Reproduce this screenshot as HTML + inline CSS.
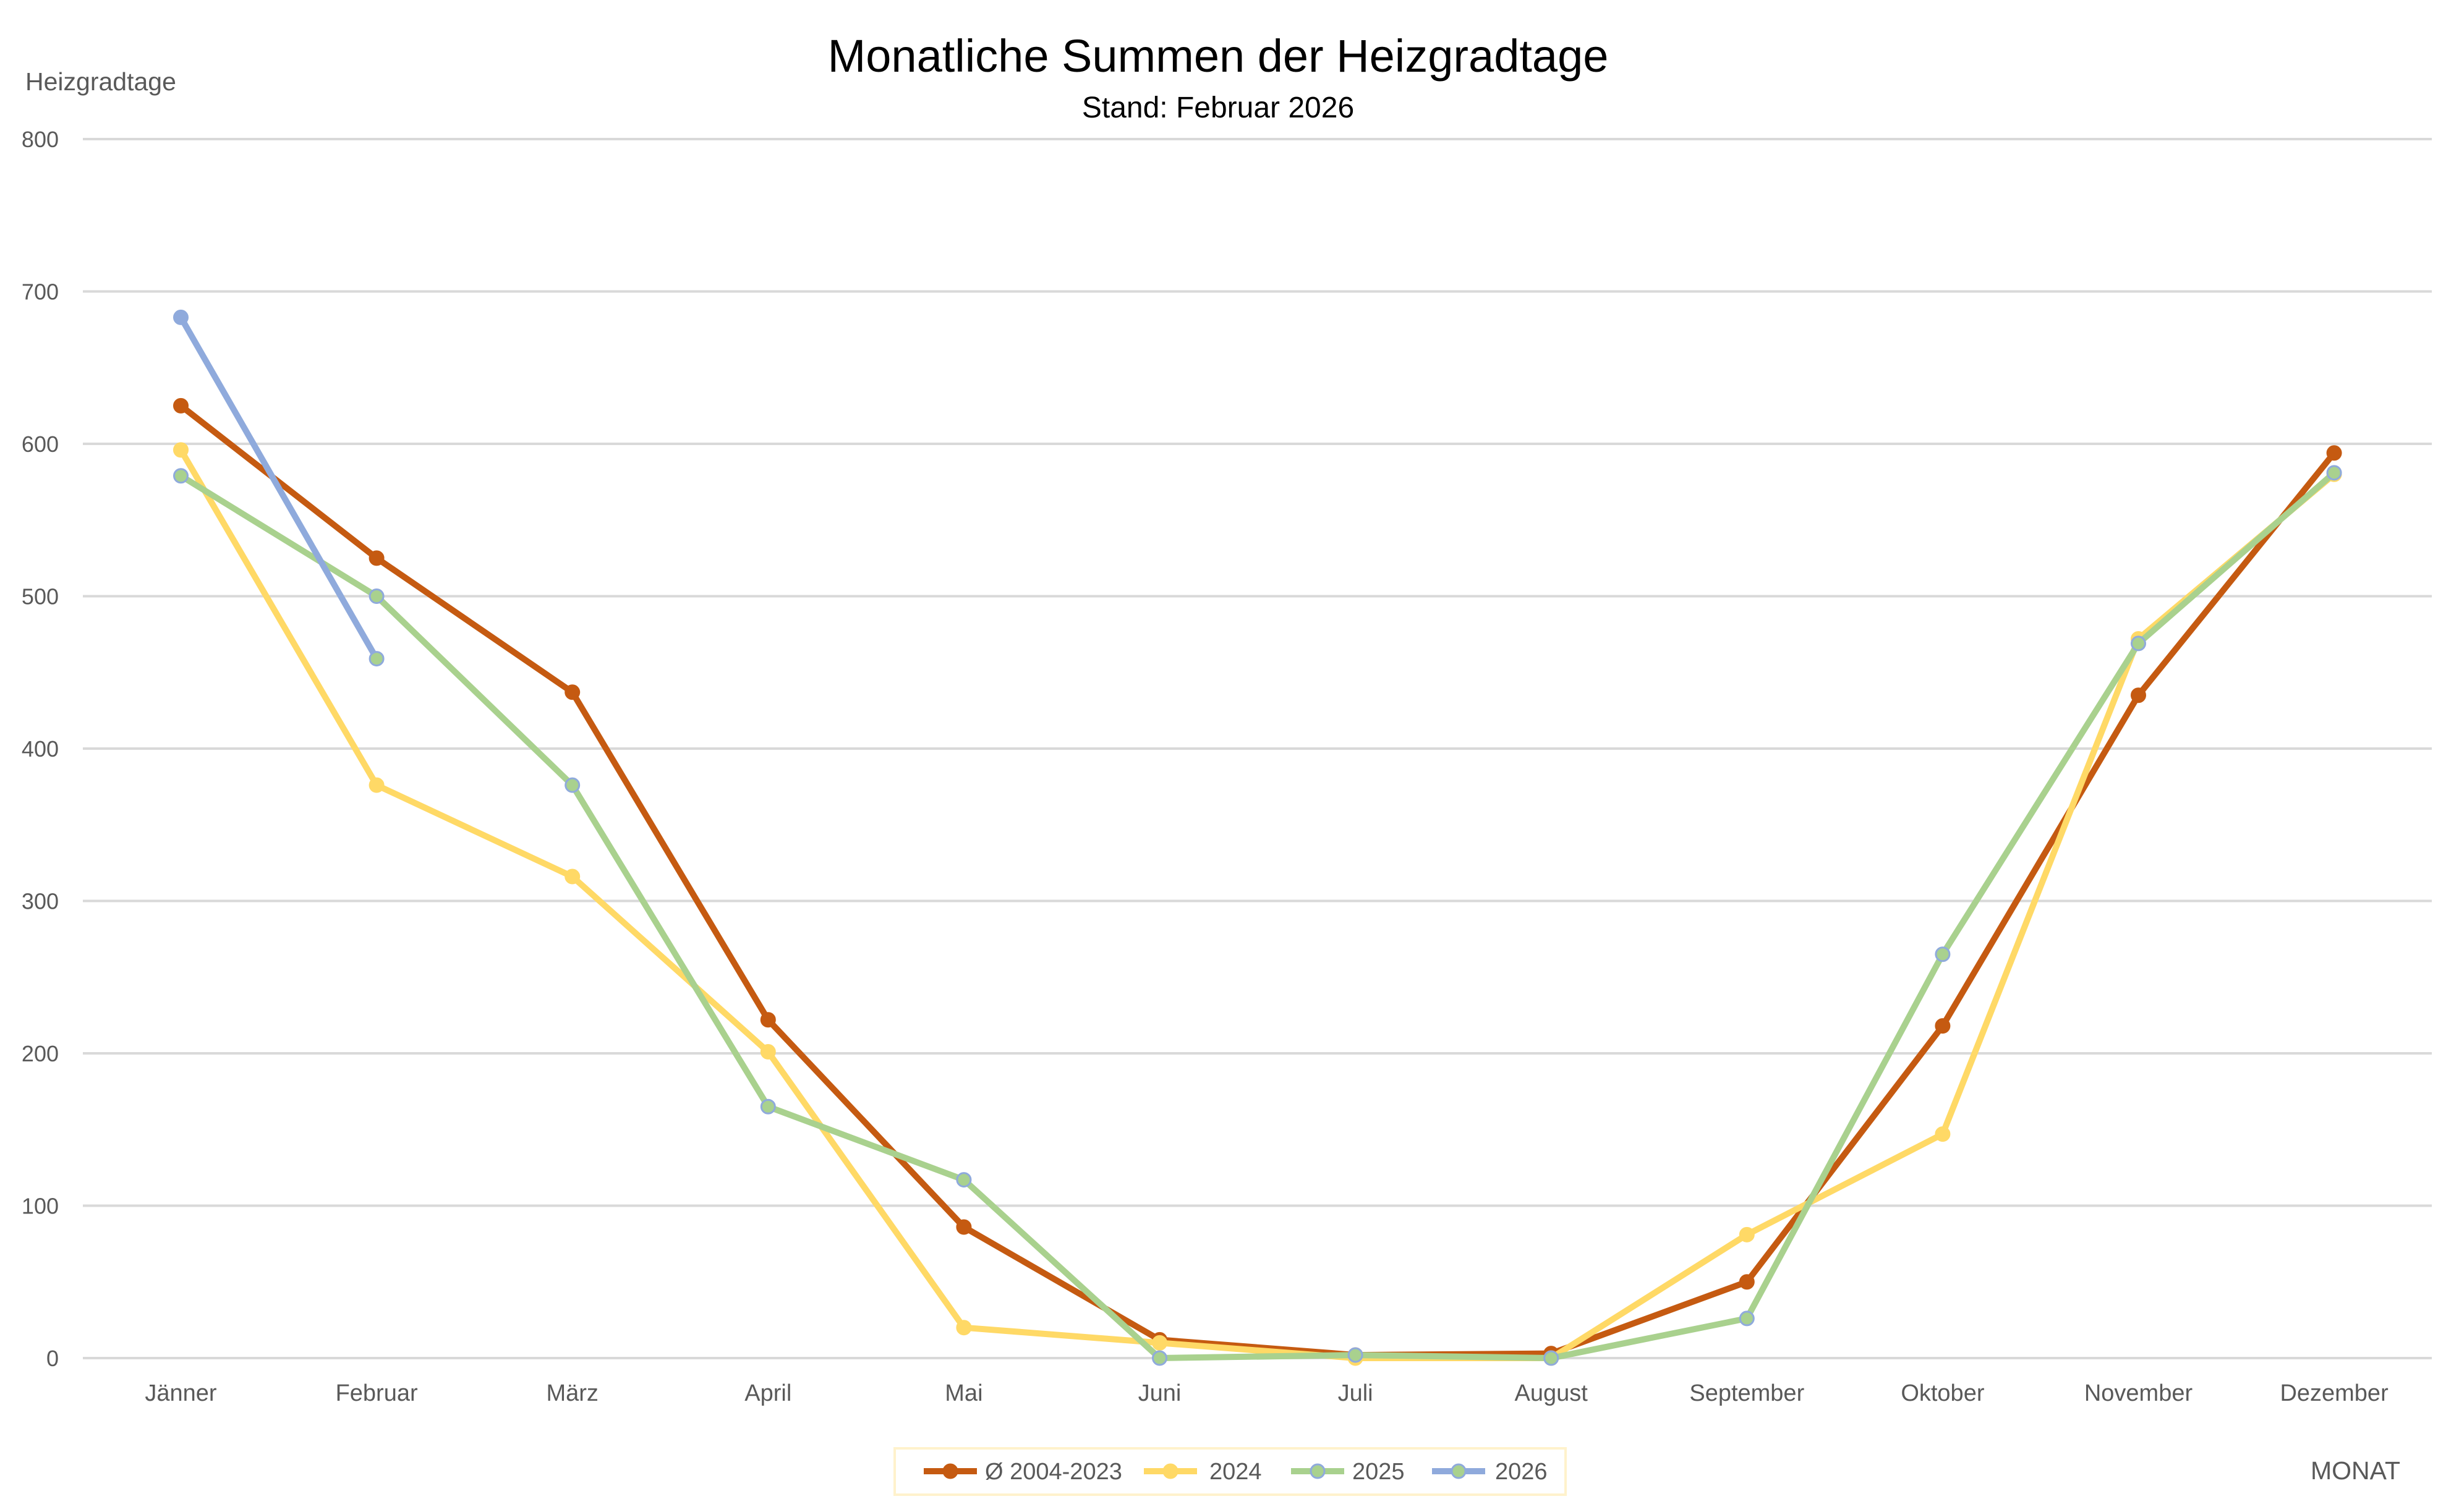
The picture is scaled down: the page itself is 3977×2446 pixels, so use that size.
<!DOCTYPE html>
<html><head><meta charset="utf-8"><style>
html,body{margin:0;padding:0;background:#fff;}
svg{display:block;font-family:"Liberation Sans",sans-serif;}
</style></head><body>
<svg id="c" width="3977" height="2446" viewBox="0 0 3977 2446" xmlns="http://www.w3.org/2000/svg">
<rect width="3977" height="2446" fill="#fff"/>
<text x="1970" y="116" font-size="74" text-anchor="middle" fill="#000">Monatliche Summen der Heizgradtage</text>
<text x="1970" y="190" font-size="48" text-anchor="middle" fill="#000">Stand: Februar 2026</text>
<text x="41" y="146" font-size="41" fill="#595959">Heizgradtage</text>
<text x="3882" y="2393" font-size="41" text-anchor="end" fill="#595959">MONAT</text>
<g id="grid"></g>
<g id="series"></g>
<rect x="1447" y="2343" width="1085" height="75" fill="#fff" stroke="#fff2cc" stroke-width="4"/>
<g id="leg"></g>
</svg>
<script>
var ns="http://www.w3.org/2000/svg",svg=document.getElementById('c');
function el(t,a,p,txt){var e=document.createElementNS(ns,t);for(var k in a)e.setAttribute(k,a[k]);if(txt!=null)e.textContent=txt;(p||svg).appendChild(e);return e;}
function Y(v){return 2197-v*2.465;}function X(i){return 292.5+316.6*i;}
var g=document.getElementById('grid');
for(var v=0;v<=800;v+=100){el('line',{x1:134,x2:3933,y1:Y(v),y2:Y(v),stroke:'#d9d9d9','stroke-width':4},g);
el('text',{x:95,y:Y(v)+13,'font-size':36,'text-anchor':'end',fill:'#595959'},g,v);}
var m=['Jänner','Februar','März','April','Mai','Juni','Juli','August','September','Oktober','November','Dezember'];
m.forEach(function(n,i){el('text',{x:X(i),y:2266,'font-size':38,'text-anchor':'middle',fill:'#595959'},g,n);});
var S=[
{d:[625,525,437,222,86,12,2,3,50,218,435,594],c:'#c55a11',f:'#c55a11',s:'#c55a11',n:'Ø 2004-2023'},
{d:[596,376,316,201,20,10,0,0,81,147,472,580],c:'#ffd966',f:'#ffd966',s:'#ffd966',n:'2024'},
{d:[579,500,376,165,117,0,2,0,26,265,469,581],c:'#a9d18e',f:'#a9d18e',s:'#8faadc',n:'2025'},
{d:[683,459],c:'#8faadc',f:'#a9d18e',s:'#8faadc',n:'2026'}];
var sg=document.getElementById('series'),lg=document.getElementById('leg');
var LX=[1537,1893,2131,2359],TX=[1593,1956,2187,2418];
S.forEach(function(s,k){var p=s.d.map(function(v,i){return X(i)+','+Y(v);}).join(' ');
el('polyline',{points:p,fill:'none',stroke:s.c,'stroke-width':10,'stroke-linejoin':'round'},sg);
s.d.forEach(function(v,i){var f=s.f;if(k==3&&i==0)f='#8faadc';el('circle',{cx:X(i),cy:Y(v),r:11,fill:f,stroke:s.s,'stroke-width':3},sg);});
var lx=LX[k];
el('line',{x1:lx-43,x2:lx+43,y1:2380,y2:2380,stroke:s.c,'stroke-width':10},lg);
el('circle',{cx:lx,cy:2380,r:11,fill:s.f,stroke:s.s,'stroke-width':3},lg);
el('text',{x:TX[k],y:2393,'font-size':38,fill:'#595959'},lg,s.n);});
</script>
</body></html>
